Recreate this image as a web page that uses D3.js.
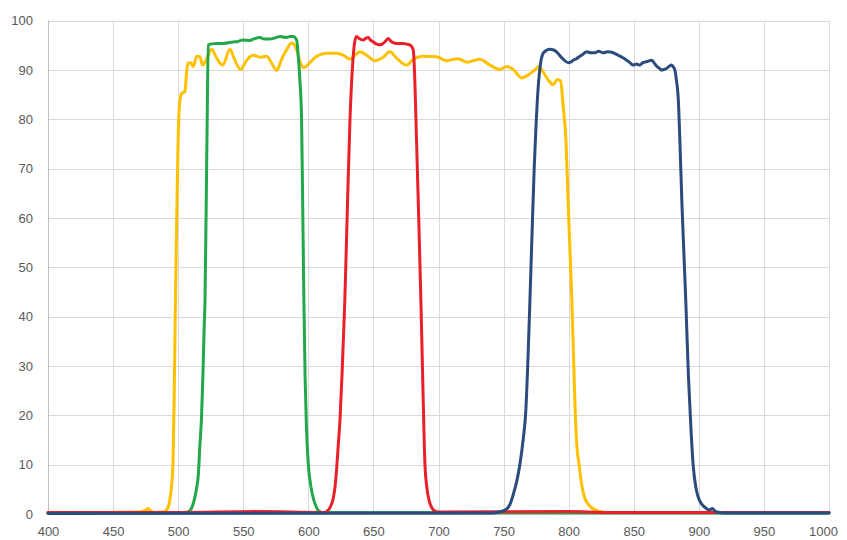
<!DOCTYPE html>
<html>
<head>
<meta charset="utf-8">
<script src="https://cdn.jsdelivr.net/npm/d3@7"></script>
<style>
  html, body { margin: 0; padding: 0; background: #fff; }
  svg { display: block; }
  .tick-label { font-family: "Liberation Sans", Arial, sans-serif; font-size: 13px; fill: #595959; }
</style>
</head>
<body>
<svg id="chart" width="847" height="540"></svg>
<script>
// Filter transmission spectra: wavelength (nm) vs transmission (%)
const xTicks = [400, 450, 500, 550, 600, 650, 700, 750, 800, 850, 900, 950, 1000];
const yTicks = [0, 10, 20, 30, 40, 50, 60, 70, 80, 90, 100];

const yellowData = [[400,0.3],[440,0.3],[470,0.4],[475,0.8],[477,1.1],[479,0.6],[482,0.3],[489,0.4],[491,0.8],[493,2],[495,6],[496,10],[497,25],[498,45],[499,62],[500,76],[501,83],[502.7,85.3],[505.2,85.6],[506.3,89],[507.5,91.4],[509.6,91.5],[511.6,90.7],[514.2,92.8],[516.7,92.7],[518.8,91.0],[521.4,92.0],[525.7,94.2],[529.6,92.4],[534.2,91.0],[539.8,94.2],[542.9,92.4],[548,90.1],[552.6,92],[557.7,93],[562.8,92.6],[568,92.8],[571.8,91.4],[575.7,89.9],[579.5,92.2],[583.3,94.1],[587.2,95.5],[591,94.1],[593.5,91.7],[596.6,90.5],[601.2,91.5],[606.4,92.8],[614.1,93.4],[621.7,93.4],[626.8,93],[632,92.2],[635.8,93],[639.6,93.7],[644.8,93],[651.2,91.9],[657.5,92.6],[662.7,93.7],[667.8,92.4],[675.5,91],[680.6,92.2],[688.2,92.8],[698.5,92.7],[706.2,91.9],[715,92.3],[722,91.6],[731.8,92.2],[739.5,91],[747.2,90.1],[752.3,90.7],[757.4,90.1],[763.8,88.4],[768.9,89],[774,90],[777.3,90.7],[780.4,89.6],[784.3,88],[788.1,87],[791.2,88.1],[793.8,87.8],[795.8,82.6],[797.9,75.8],[800,60],[802.5,43],[804.5,25],[806,15],[808,10],[810,6],[812,3.5],[815,2],[819,1],[824,0.5],[830,0.3],[1000,0.3]];

const greenData = [[400,0.3],[505,0.3],[508,0.5],[510,1],[512,2.5],[514,5],[515.5,8],[516.7,14],[518,20],[519,28],[520,38],[520.6,43],[521.5,62],[522.3,80],[523.1,95.1],[526,95.3],[529.6,95.4],[535,95.4],[542.3,95.7],[546,95.8],[550,96.1],[555.1,96],[558,96.3],[562.8,96.6],[566,96.3],[570.5,96.3],[574,96.5],[578.2,96.8],[583.3,96.6],[586,96.8],[588.4,96.8],[591,96.1],[592.2,93],[593.5,88],[594.8,80],[595.7,62],[596.6,43],[597.5,28],[598.5,18],[600,10],[602,5.5],[604,3],[606,1.5],[608,0.6],[611,0.3],[1000,0.2]];

const redData = [[400,0.3],[500,0.3],[560,0.5],[612,0.3],[615,0.7],[617,1.5],[619,3],[620.5,5.5],[621.7,9],[623,14],[624.3,19],[626,29],[628,43],[630,62],[632,80],[634,91],[635.5,95.5],[637,96.8],[639,96.4],[642.2,96.1],[644,96.4],[646,96.6],[648,96],[649.9,95.7],[652,95.3],[655,95.1],[657,95.3],[658.8,95.7],[661.4,96.4],[664,95.7],[667.8,95.4],[672.9,95.4],[676,95.2],[678,95.1],[680.6,94.1],[681.8,88],[683.1,76],[684.8,60],[686.5,43],[688,26],[689.6,10],[691,5.5],[693,2.5],[695,1.2],[697.2,0.6],[700,0.4],[800,0.5],[830,0.3],[1000,0.3]];

const blueData = [[400,0.1],[740,0.2],[748,0.5],[752.3,1],[755,2],[757.5,4],[760,6.5],[762.5,10],[765,15],[767.1,21],[768.8,32],[770.2,43],[772,58],[773.5,70],[774.8,78],[776.6,86.6],[778.5,91.5],[780.4,93.4],[783,94],[785.6,94.2],[788,94.1],[790.7,93.7],[793,93],[795.8,92.2],[799.6,91.5],[801.5,91.6],[803.5,92],[806,92.3],[808.6,92.8],[811,93.2],[813.7,93.7],[817,93.5],[820.1,93.5],[823,93.8],[826.5,93.5],[830,93.7],[834.2,93.5],[838,93],[841,92.6],[844.5,92],[847,91.5],[849.6,91],[852,91.2],[854.7,91],[857,91.5],[859.8,91.7],[863.7,92],[865.5,91.5],[867.5,90.8],[869.5,90.4],[871.4,90],[873,90.1],[875.2,90.3],[877,90.7],[879,91],[880.5,90.6],[881.6,90],[883,87.5],[884.1,84.6],[885.4,76],[887,63],[888.5,53],[890,43],[892,28],[894,17],[895.6,10],[898,5],[901,2.5],[905,1.3],[908,0.8],[910.5,1.1],[912,0.7],[914,0.4],[920,0.2],[1000,0.2]];

const series = [
  { name: "yellow", data: yellowData, color: "#FFC000" },
  { name: "green",  data: greenData,  color: "#22A84A" },
  { name: "red",    data: redData,    color: "#E8202A" },
  { name: "blue",   data: blueData,   color: "#2A4B7C" }
];

const svg = d3.select("#chart");
const plotLeft = 48, plotRight = 829, plotTop = 20.7, plotBottom = 514;

const x = d3.scaleLinear().domain([400, 1000]).range([plotLeft, plotRight]);
const y = d3.scaleLinear().domain([0, 100]).range([plotBottom, plotTop]);

// gridlines
const grid = svg.append("g").attr("stroke", "#d9d9d9").attr("stroke-width", 1);
grid.selectAll(".vg").data(xTicks).join("line")
  .attr("x1", d => Math.round(x(d)) + 0.5).attr("x2", d => Math.round(x(d)) + 0.5)
  .attr("y1", plotTop).attr("y2", plotBottom);
grid.selectAll(".hg").data(yTicks).join("line")
  .attr("x1", plotLeft).attr("x2", plotRight)
  .attr("y1", d => Math.round(y(d)) + 0.5).attr("y2", d => Math.round(y(d)) + 0.5);

// axes (labels only, lines hidden)
const xAxis = svg.append("g").attr("transform", `translate(0,${plotBottom})`)
  .call(d3.axisBottom(x).tickValues(xTicks).tickSize(0).tickPadding(13).tickFormat(d3.format("d")));
xAxis.select(".domain").remove();
xAxis.selectAll("text").attr("class", "tick-label").attr("font-size", null).attr("font-family", null).attr("fill", null);
xAxis.selectAll(".tick").filter(d => d === 1000).select("text").attr("dx", -6);

const yAxis = svg.append("g").attr("transform", `translate(${plotLeft},0)`)
  .call(d3.axisLeft(y).tickValues(yTicks).tickSize(0).tickPadding(15).tickFormat(d3.format("d")));
yAxis.select(".domain").remove();
yAxis.selectAll("text").attr("class", "tick-label").attr("font-size", null).attr("font-family", null).attr("fill", null);

// plot border lines
svg.append("line").attr("x1", plotLeft + 0.5).attr("x2", plotLeft + 0.5).attr("y1", plotTop).attr("y2", plotBottom)
  .attr("stroke", "#bfbfbf");
svg.append("line").attr("x1", plotLeft).attr("x2", plotRight).attr("y1", plotBottom + 0.5).attr("y2", plotBottom + 0.5)
  .attr("stroke", "#bfbfbf");

// spectra
const line = d3.line().x(d => x(d[0])).y(d => y(d[1])).curve(d3.curveMonotoneX);

svg.append("g").selectAll("path").data(series).join("path")
  .attr("d", s => line(s.data))
  .attr("fill", "none")
  .attr("stroke", s => s.color)
  .attr("stroke-width", 3)
  .attr("stroke-linejoin", "round")
  .attr("stroke-linecap", "round");
</script>
</body>
</html>
